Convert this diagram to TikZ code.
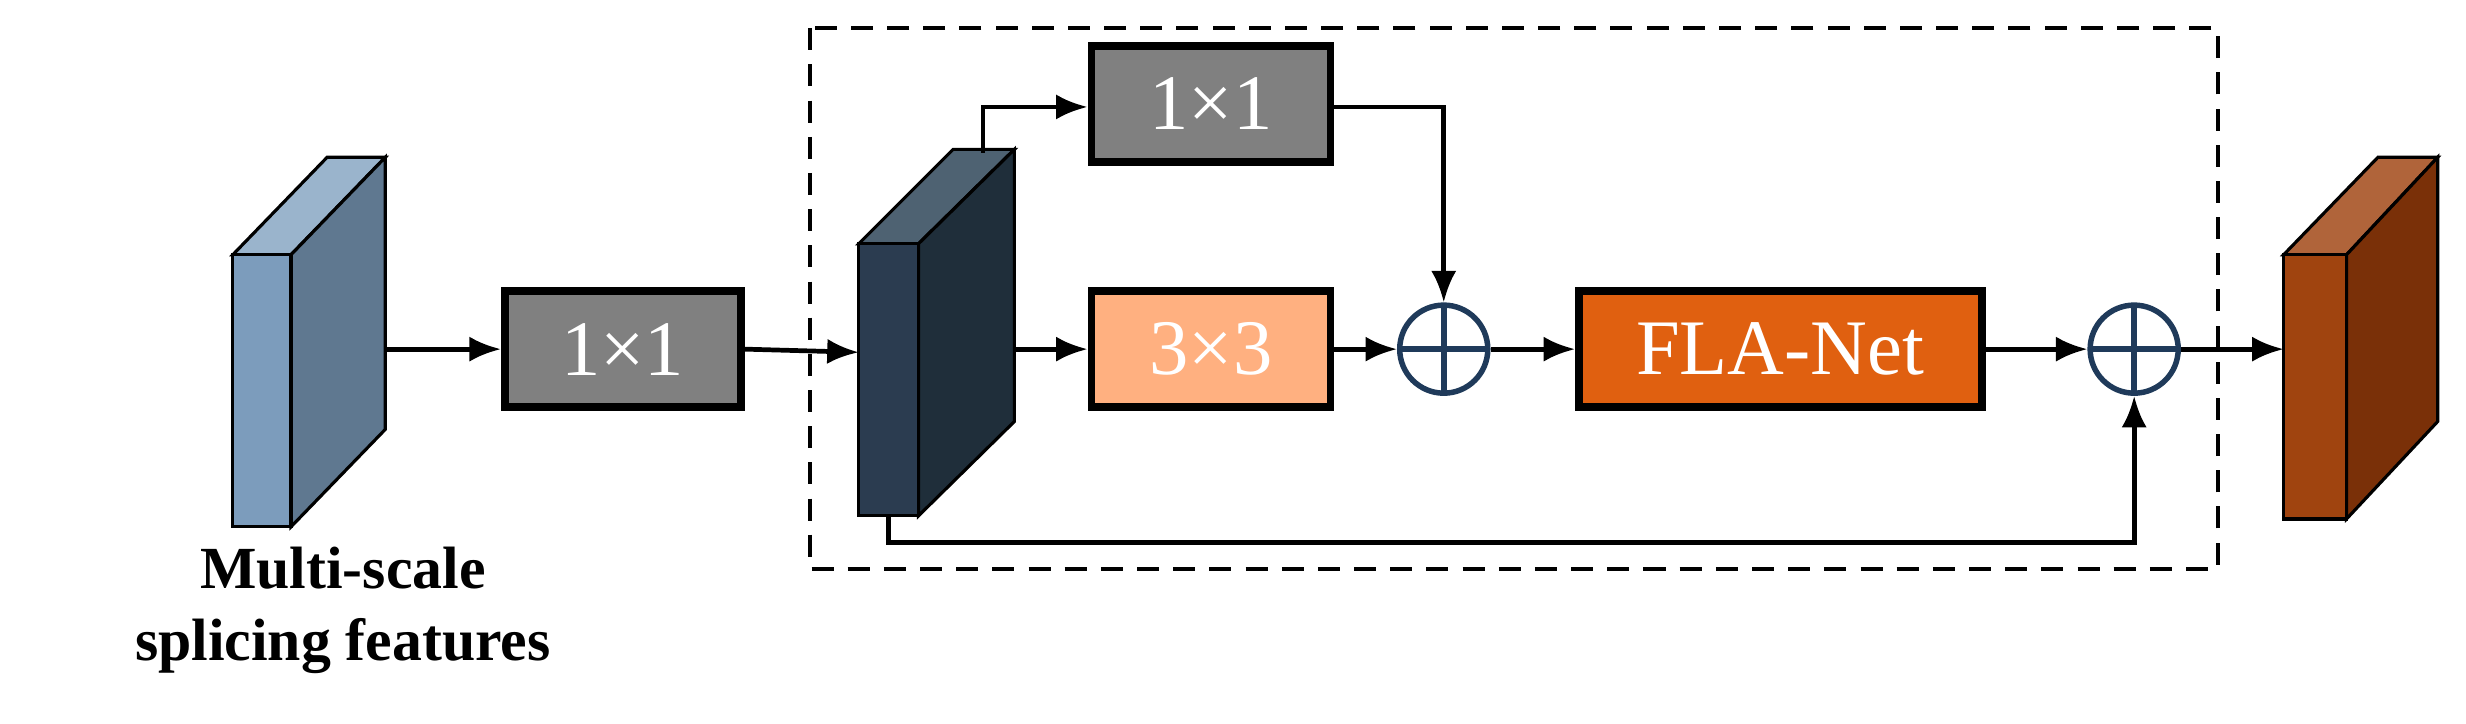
\documentclass[tikz,border=0pt]{standalone}
\usepackage{fontspec}
\setmainfont{Liberation Serif}
\usetikzlibrary{arrows.meta}
\definecolor{bfr}{HTML}{7C9CBC}\definecolor{bsd}{HTML}{5F7890}\definecolor{btp}{HTML}{9AB4CC}
\definecolor{dfr}{HTML}{2B3C50}\definecolor{dsd}{HTML}{1F2E3A}\definecolor{dtp}{HTML}{4E6272}
\definecolor{rfr}{HTML}{A0440F}\definecolor{rsd}{HTML}{7A3008}\definecolor{rtp}{HTML}{B0643A}
\definecolor{gry}{HTML}{808080}\definecolor{lor}{HTML}{FFB080}\definecolor{dor}{HTML}{E06010}
\definecolor{nav}{HTML}{1F3A5A}
\begin{document}
\begin{tikzpicture}[x=1pt,y=-1pt,
 box/.style={draw=black,line width=5pt,minimum height=74pt,inner sep=0pt,text=white,font=\fontsize{50}{60}\selectfont},
 arr/.style={line width=3pt,-{Latex[length=20pt,width=16pt]}},
 osum/.style={circle,draw=nav,line width=3.5pt,minimum size=56pt,inner sep=0pt,
   path picture={\draw[nav,line width=3.5pt](path picture bounding box.north)--(path picture bounding box.south)(path picture bounding box.west)--(path picture bounding box.east);}},
 face/.style={draw=black,line width=2pt}]
\useasboundingbox (0,0) rectangle (1568,460);
% left block
\draw[face,fill=btp] (148,162)--(208,100)--(245,100)--(185,162)--cycle;
\draw[face,fill=bsd] (185,162)--(245,100)--(245,273)--(185,335)--cycle;
\draw[face,fill=bfr] (148,162) rectangle (185,335);
\coordinate (lb) at (245,222);
% dark block
\draw[face,fill=dtp] (546,155)--(606,95)--(645,95)--(584,155)--cycle;
\draw[face,fill=dsd] (584,155)--(645,95)--(645,268)--(584,328)--cycle;
\draw[face,fill=dfr] (546,155) rectangle (584,328);
\coordinate (dbin) at (546,224);
\coordinate (dbout) at (645,222);
\coordinate (dbtop) at (625,97);
\coordinate (dbbot) at (565,328);
% right block
\draw[face,fill=rtp] (1452,162)--(1512,100)--(1550,100)--(1492,162)--cycle;
\draw[face,fill=rsd] (1492,162)--(1550,100)--(1550,268)--(1492,330)--cycle;
\draw[face,fill=rfr] (1452,162) rectangle (1492,330);
\coordinate (rbin) at (1452,222);
% dashed
\draw[line width=2.5pt,dash pattern=on 14pt off 9pt] (515,18) rectangle (1410,362);
% boxes
\node[box,fill=gry,minimum width=150pt] (c1) at (396,222) {1×1};
\node[box,fill=gry,minimum width=152pt] (c2) at (770,66) {1×1};
\node[box,fill=lor,minimum width=152pt] (c3) at (770,222) {3×3};
\node[box,fill=dor,minimum width=256pt] (fla) at (1132,222) {FLA-Net};
\node[osum] (s1) at (918,222) {};
\node[osum] (s2) at (1357,222) {};
% arrows
\draw[arr] (lb)--(c1);
\draw[arr] (c1.east)--(dbin);
\draw[arr] (dbout)--(c3);
\draw[arr] (dbtop)--(625,68)--(c2.west|-0,68);
\draw[arr] (c2.east|-0,68)--(918,68)--(s1);
\draw[arr] (c3)--(s1);
\draw[arr] (s1)--(fla);
\draw[arr] (fla)--(s2);
\draw[arr] (s2)--(rbin);
\draw[arr] (dbbot)--(565,345)--(1357,345)--(s2);
\node[font=\fontsize{38}{46}\selectfont\bfseries,align=center] (lab) at (218,388) {Multi-scale\\splicing features};
\end{tikzpicture}
\end{document}
